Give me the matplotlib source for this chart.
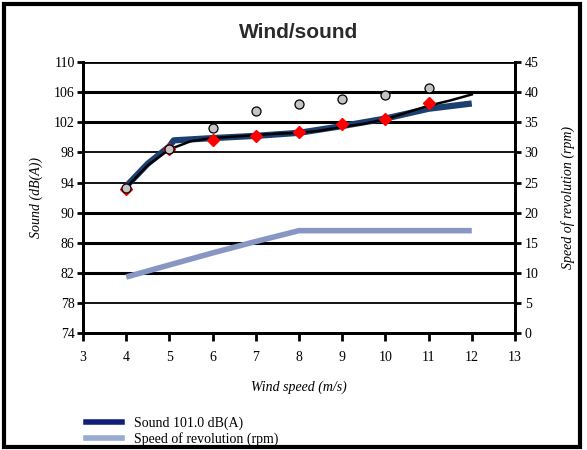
import matplotlib
matplotlib.use("Agg")
import matplotlib.pyplot as plt
from matplotlib.patches import Rectangle
from matplotlib.lines import Line2D

# ---- data ----
wind_measured = [4, 5, 6, 7, 8, 9, 10, 11]
sound_circles = [93.3, 98.5, 101.3, 103.5, 104.4, 105.1, 105.6, 106.6]
sound_diamonds = [93.2, 98.4, 99.6, 100.2, 100.7, 101.8, 102.4, 104.5]

wind_fit = [4, 4.5, 5, 5.5, 6, 6.5, 7, 7.5, 8, 8.5, 9, 9.5, 10, 10.5, 11, 11.5, 12]
sound_fit = [93.3, 96.3, 98.4, 99.5, 99.9, 100.1, 100.3, 100.5, 100.6, 100.9,
             101.4, 101.8, 102.4, 103.3, 104.2, 104.9, 105.7]

wind_sound = [4, 4.5, 5, 5.1, 6, 7, 8, 9, 10, 11, 12]
sound_line = [93.5, 96.5, 98.8, 99.6, 99.9, 100.2, 100.6, 101.5, 102.5, 103.8, 104.5]

wind_rpm = [4, 5, 6, 7, 8, 9, 10, 11, 12]
rpm = [9.3, 11.3, 13.3, 15.2, 17.0, 17.0, 17.0, 17.0, 17.0]

left_ticks = [74, 78, 82, 86, 90, 94, 98, 102, 106, 110]
right_ticks = [0, 5, 10, 15, 20, 25, 30, 35, 40, 45]
x_ticks = [3, 4, 5, 6, 7, 8, 9, 10, 11, 12, 13]
grid_widths = [2.0, 1.3, 2.2, 2.2, 2.2, 1.3, 1.3, 2.2, 2.2, 2.0]

serif = "Liberation Serif"
sans = "Liberation Sans"

fig = plt.figure(figsize=(5.87, 4.5), dpi=100)
ax = fig.add_axes([0.1414, 0.26, 0.7359, 0.602])
ax2 = ax.twinx()

ax.set_xlim(3, 13)
ax.set_ylim(74, 110)
ax2.set_ylim(0, 45)

for yv, lw in zip(left_ticks, grid_widths):
    ax.axhline(yv, color="black", lw=lw, zorder=1)

ax.plot(wind_sound, sound_line, color="#1b3f70", lw=4.5, solid_capstyle="butt", zorder=3)
ax.plot(wind_fit, sound_fit, color="black", lw=1.8, zorder=4)
ax.plot(wind_measured, sound_diamonds, linestyle="none", marker="D", markersize=6,
        color="red", markeredgecolor="red", zorder=5)
ax.plot(wind_measured, sound_circles, linestyle="none", marker="o", markersize=6.5,
        markerfacecolor="#c4c4c4", markeredgecolor="black", markeredgewidth=0.9, zorder=6)

ax2.plot(wind_rpm, rpm, color="#8896c4", lw=4, solid_capstyle="butt", zorder=3)

ax.set_xticks(x_ticks)
ax.set_xticklabels([str(v) for v in x_ticks], fontfamily=serif, fontsize=10)
ax.set_yticks(left_ticks)
ax.set_yticklabels([str(v) for v in left_ticks], fontfamily=serif, fontsize=10)
ax2.set_yticks(right_ticks)
ax2.set_yticklabels([str(v) for v in right_ticks], fontfamily=serif, fontsize=10)

ax.tick_params(axis="x", direction="out", length=6, width=2, pad=7)
ax.tick_params(axis="y", direction="out", length=4, width=2, pad=2)
ax2.tick_params(axis="y", direction="out", length=4, width=2, pad=3)

for a in (ax, ax2):
    for s in a.spines.values():
        s.set_linewidth(2)
ax.spines["top"].set_visible(False)
ax2.spines["top"].set_visible(False)

ax.set_xlabel("Wind speed (m/s)", fontfamily=serif, fontstyle="italic", fontsize=10, labelpad=12)
ax.set_ylabel("Sound (dB(A))", fontfamily=serif, fontstyle="italic", fontsize=10, labelpad=8)
ax2.set_ylabel("Speed of revolution (rpm)", fontfamily=serif, fontstyle="italic",
               fontsize=10, rotation=90, labelpad=16)

fig.text(0.508, 0.928, "Wind/sound", ha="center", va="center", fontfamily=sans,
         fontweight="bold", fontsize=15, color="#2a2a2a")

handles = [Line2D([], [], color="#10207a", lw=4),
           Line2D([], [], color="#9aaad2", lw=4)]
fig.legend(handles, ["Sound 101.0 dB(A)", "Speed of revolution (rpm)"],
           loc="upper left", bbox_to_anchor=(0.147, 0.075), frameon=False,
           prop={"family": serif, "size": 10}, handlelength=2.6, labelspacing=0.15,
           handletextpad=0.8, borderaxespad=0, borderpad=0)

fig.patches.append(Rectangle((0.006, 0.006), 0.982, 0.986, transform=fig.transFigure,
                             fill=False, edgecolor="black", lw=3))

fig.savefig("out.png", dpi=100)
